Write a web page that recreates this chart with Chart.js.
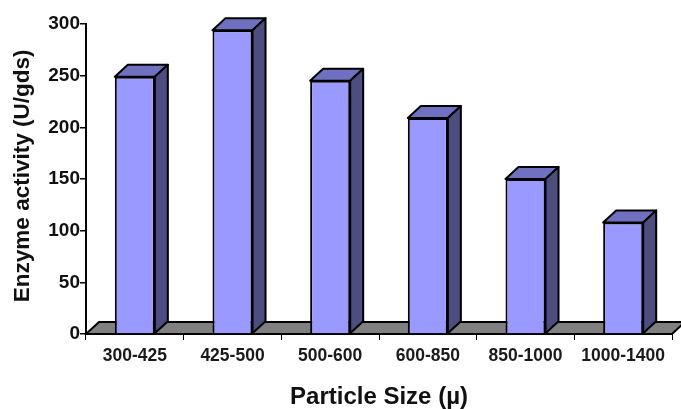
<!DOCTYPE html>
<html>
<head>
<meta charset="utf-8">
<style>
  html, body { margin: 0; padding: 0; background: #fff; }
  #wrap { width: 681px; height: 409px; }
</style>
<script src="https://cdn.jsdelivr.net/npm/chart.js@4"></script>
</head>
<body>
<div id="wrap"><canvas id="chartEnzyme" width="681" height="409"></canvas></div>
<script>
const categories = ['300-425', '425-500', '500-600', '600-850', '850-1000', '1000-1400'];
const activity = [249, 294, 245, 209, 150, 108];
const yTicks = [0, 50, 100, 150, 200, 250, 300];

const DEPTH_X = 13;
const DEPTH_Y = 12;
const FONT = '"Liberation Sans", Arial, sans-serif';

function poly(ctx, pts, fill) {
  ctx.beginPath();
  pts.forEach((p, i) => i ? ctx.lineTo(p[0], p[1]) : ctx.moveTo(p[0], p[1]));
  ctx.closePath();
  ctx.fillStyle = fill;
  ctx.fill();
  ctx.stroke();
}

// fake 3d: floor behind the bars, top and side faces on each bar
const fake3d = {
  id: 'fake3d',
  beforeDatasetsDraw(chart) {
    const { ctx, chartArea: a } = chart;
    ctx.save();
    ctx.strokeStyle = '#000';
    ctx.lineWidth = 2;
    ctx.lineJoin = 'round';
    poly(ctx, [
      [a.left, a.bottom],
      [a.left + DEPTH_X, a.bottom - DEPTH_Y],
      [a.right + DEPTH_X, a.bottom - DEPTH_Y],
      [a.right, a.bottom]
    ], '#808080');
    ctx.restore();
  },
  afterDatasetsDraw(chart) {
    const { ctx } = chart;
    ctx.save();
    ctx.strokeStyle = '#000';
    ctx.lineWidth = 2;
    ctx.lineJoin = 'round';
    chart.getDatasetMeta(0).data.forEach(bar => {
      const l = bar.x - bar.width / 2;
      const r = bar.x + bar.width / 2;
      const t = bar.y;
      const b = bar.base;
      poly(ctx, [[l, t], [l + DEPTH_X, t - DEPTH_Y], [r + DEPTH_X, t - DEPTH_Y], [r, t]], '#7070c0');
      poly(ctx, [[r, t], [r + DEPTH_X, t - DEPTH_Y], [r + DEPTH_X, b - DEPTH_Y], [r, b]], '#4d4d80');
    });
    ctx.restore();
  }
};

new Chart(document.getElementById('chartEnzyme'), {
  type: 'bar',
  data: {
    labels: categories,
    datasets: [{
      data: activity,
      backgroundColor: '#9999ff',
      borderColor: '#000',
      borderWidth: 2,
      barPercentage: 0.41,
      categoryPercentage: 1
    }]
  },
  options: {
    responsive: false,
    animation: false,
    layout: { padding: { top: 24, right: 9, left: 12, bottom: 0 } },
    plugins: { legend: { display: false }, tooltip: { enabled: false }, fake3d: {} },
    scales: {
      x: {
        afterFit(s) { s.height = 75; },
        grid: { drawOnChartArea: false, color: '#000', lineWidth: 1, tickLength: 6 },
        border: { color: '#000', width: 2 },
        ticks: { color: '#1a1a1a', maxRotation: 0, padding: 6, font: { family: FONT, size: 17.5, weight: 'bold' } },
        title: { display: true, text: 'Particle Size (µ)', color: '#111', padding: 0, font: { family: FONT, size: 24, weight: 'bold', lineHeight: 1 } }
      },
      y: {
        min: 0,
        max: 300,
        afterFit(s) { s.width = 74; },
        afterBuildTicks(s) { s.ticks = yTicks.map(v => ({ value: v })); },
        grid: { drawOnChartArea: false, color: '#000', lineWidth: 1.5, tickLength: 6 },
        border: { color: '#000', width: 2 },
        ticks: { color: '#111', padding: 0, font: { family: FONT, size: 19, weight: 'bold' } },
        title: { display: true, text: ' Enzyme activity (U/gds)', color: '#111', padding: 0, font: { family: FONT, size: 22.5, weight: 'bold', lineHeight: 1 } }
      }
    }
  },
  plugins: [fake3d]
});
</script>
</body>
</html>
